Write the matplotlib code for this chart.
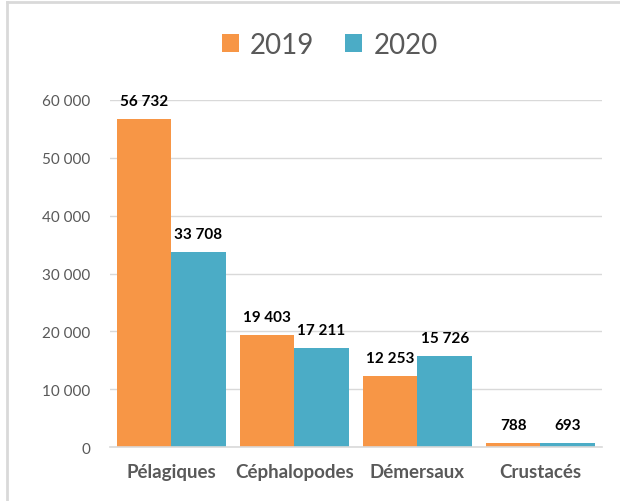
import numpy as np
import matplotlib.pyplot as plt
from matplotlib.lines import Line2D

categories = ["Pélagiques", "Céphalopodes", "Démersaux", "Crustacés"]
years = ["2019", "2020"]
vals_2019 = [56732, 19403, 12253, 788]
vals_2020 = [33708, 17211, 15726, 693]

orange = "#F79646"
teal = "#4BACC6"
grey = "#595959"

plt.rcParams['font.family'] = ['Lato', 'DejaVu Sans']

fig = plt.figure(figsize=(6.2, 5.02), dpi=100)
ax = fig.add_axes([0.177, 0.107, 0.794, 0.692])

x = np.arange(len(categories))
w = 0.443
b1 = ax.bar(x - w / 2, vals_2019, w, color=orange, label=years[0])
b2 = ax.bar(x + w / 2, vals_2020, w, color=teal, label=years[1])

def fmt(v):
    return f"{v:,}".replace(",", " ")

for bars, vals in ((b1, vals_2019), (b2, vals_2020)):
    for r, v in zip(bars, vals):
        ax.annotate(fmt(v), (r.get_x() + r.get_width() / 2, v),
                    xytext=(0, 8), textcoords="offset points",
                    ha="center", va="bottom", fontsize=11, fontweight="bold",
                    color="black")

ax.set_xlim(-0.5, 3.5)
ax.set_ylim(0, 60000)
ax.set_yticks(range(0, 60001, 10000))
ax.set_yticklabels([fmt(t) for t in range(0, 60001, 10000)], fontsize=11, color=grey)
ax.set_xticks(x)
ax.set_xticklabels(categories, fontsize=13.5, fontweight="bold", color=grey)
ax.tick_params(axis="y", length=0, pad=14)
ax.tick_params(axis="x", length=0, pad=11)

ax.grid(axis="y", color="#D9D9D9", linewidth=1)
ax.set_axisbelow(True)
for s in ("top", "right", "left"):
    ax.spines[s].set_visible(False)
ax.spines["bottom"].set_color("#D9D9D9")
ax.spines["bottom"].set_linewidth(1.2)

fig.legend(loc="center", bbox_to_anchor=(0.532, 0.908), ncol=2, frameon=False,
           fontsize=20, handlelength=0.62, handleheight=0.62, handletextpad=0.4,
           columnspacing=1.1, labelcolor=grey)

# cadre gris (haut et gauche)
fig.add_artist(Line2D([0.011, 1.0], [0.995, 0.995], color="#D9D9D9", lw=2, transform=fig.transFigure))
fig.add_artist(Line2D([0.011, 0.011], [0.0, 0.995], color="#D9D9D9", lw=2, transform=fig.transFigure))

fig.savefig("out.png", dpi=100)
